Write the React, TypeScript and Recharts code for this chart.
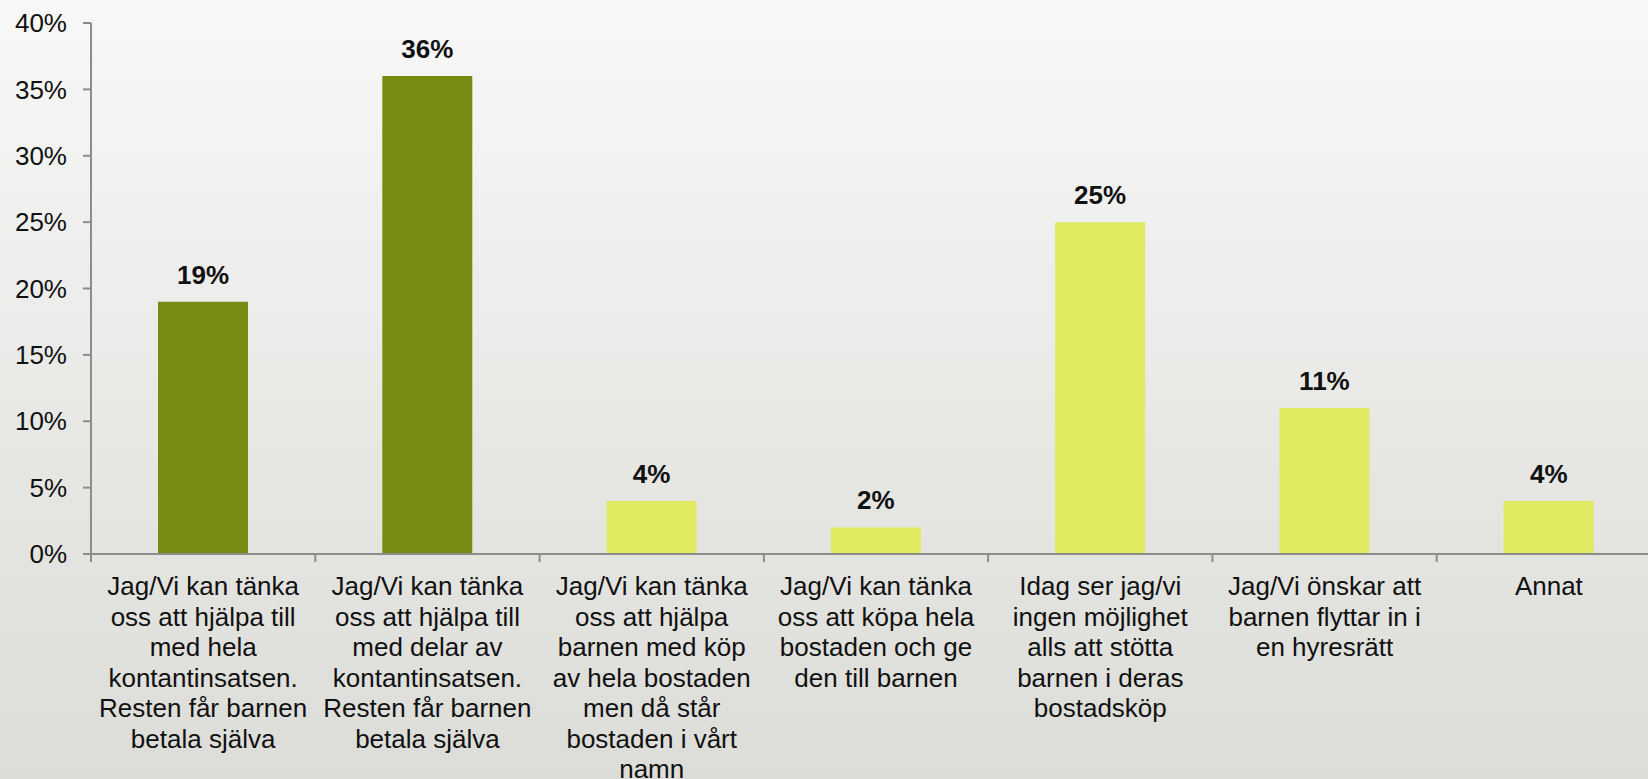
import * as React from "react";
import { BarChart, Bar, XAxis, YAxis, Cell, LabelList } from "recharts";

const categories = [
  "Jag/Vi kan tänka oss att hjälpa till med hela kontantinsatsen. Resten får barnen betala själva",
  "Jag/Vi kan tänka oss att hjälpa till med delar av kontantinsatsen. Resten får barnen betala själva",
  "Jag/Vi kan tänka oss att hjälpa barnen med köp av hela bostaden men då står bostaden i vårt namn",
  "Jag/Vi kan tänka oss att köpa hela bostaden och ge den till barnen",
  "Idag ser jag/vi ingen möjlighet alls att stötta barnen i deras bostadsköp",
  "Jag/Vi önskar att barnen flyttar in i en hyresrätt",
  "Annat",
];

// how each category label breaks into lines in the original
const categoryLines = [
  ["Jag/Vi kan tänka", "oss att hjälpa till", "med hela", "kontantinsatsen.", "Resten får barnen", "betala själva"],
  ["Jag/Vi kan tänka", "oss att hjälpa till", "med delar av", "kontantinsatsen.", "Resten får barnen", "betala själva"],
  ["Jag/Vi kan tänka", "oss att hjälpa", "barnen med köp", "av hela bostaden", "men då står", "bostaden i vårt", "namn"],
  ["Jag/Vi kan tänka", "oss att köpa hela", "bostaden och ge", "den till barnen"],
  ["Idag ser jag/vi", "ingen möjlighet", "alls att stötta", "barnen i deras", "bostadsköp"],
  ["Jag/Vi önskar att", "barnen flyttar in i", "en hyresrätt"],
  ["Annat"],
];

const values = [19, 36, 4, 2, 25, 11, 4];

const yTicks = [0, 5, 10, 15, 20, 25, 30, 35, 40];

const DARK = "#7a8b13";
const LIGHT = "#dfea60";
const barColors = [DARK, DARK, LIGHT, LIGHT, LIGHT, LIGHT, LIGHT];

const FONT = "'Liberation Sans', Arial, sans-serif";
const AXIS = "#8c8c8c";

const data = categories.map((c, i) => ({ category: c, value: values[i] }));

function CategoryTick(props: any) {
  const { x, y, payload } = props;
  const idx = categories.indexOf(payload.value);
  const lines = categoryLines[idx] || [payload.value];
  const half = payload.offset || 112;
  return (
    <g>
      <line x1={x - half} y1={y} x2={x - half} y2={y + 8} stroke={AXIS} strokeWidth={2} />
      <text x={x} y={y + 41} textAnchor="middle" fontSize={26} fontFamily={FONT} fill="#111">
        {lines.map((l, i) => (
          <tspan key={i} x={x} dy={i === 0 ? 0 : 30.5}>
            {l}
          </tspan>
        ))}
      </text>
    </g>
  );
}

function ValueLabel(props: any) {
  const { x, y, width, value } = props;
  return (
    <text
      x={x + width / 2}
      y={y - 18}
      textAnchor="middle"
      fontSize={26}
      fontWeight="bold"
      fontFamily={FONT}
      fill="#111"
    >
      {value}%
    </text>
  );
}

export default function App() {
  return (
    <div
      style={{
        position: "absolute",
        left: 0,
        top: 0,
        width: 1648,
        height: 779,
        overflow: "hidden",
        background: "linear-gradient(to bottom, #f8f8f8 0%, #e6e6e3 60%, #dcdcd8 100%)",
      }}
    >
      <BarChart
        width={1680}
        height={779}
        data={data}
        margin={{ top: 23, right: 19, bottom: 0, left: 0 }}
        barSize={90}
      >
        <XAxis
          dataKey="category"
          interval={0}
          height={225}
          tickLine={false}
          tickSize={0}
          tickMargin={0}
          axisLine={{ stroke: AXIS, strokeWidth: 2 }}
          tick={<CategoryTick />}
        />
        <YAxis
          width={91}
          domain={[0, 40]}
          ticks={yTicks}
          interval={0}
          tickFormatter={(v) => `${v}%`}
          tickSize={8}
          tickMargin={16}
          axisLine={{ stroke: AXIS, strokeWidth: 2 }}
          tickLine={{ stroke: AXIS, strokeWidth: 2 }}
          tick={{ fontSize: 26, fontFamily: FONT, fill: "#111" }}
        />
        <Bar dataKey="value" isAnimationActive={false}>
          {data.map((d, i) => (
            <Cell key={i} fill={barColors[i]} />
          ))}
          <LabelList dataKey="value" content={<ValueLabel />} />
        </Bar>
      </BarChart>
    </div>
  );
}
